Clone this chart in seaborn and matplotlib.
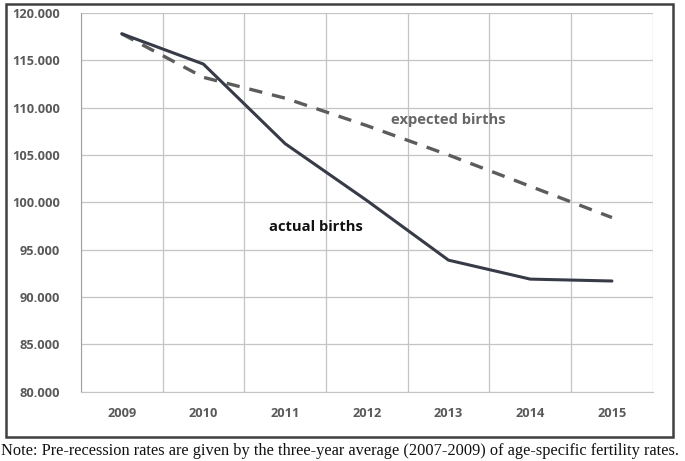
import matplotlib
matplotlib.use("Agg")
import matplotlib.pyplot as plt
import matplotlib.ticker as mticker
from matplotlib.patches import Rectangle
import seaborn as sns
import pandas as pd

years = [2009, 2010, 2011, 2012, 2013, 2014, 2015]
actual_births = [117800, 114600, 106200, 100200, 93900, 91900, 91700]
expected_births = [117800, 113200, 111000, 108100, 105000, 101700, 98400]
y_ticks = [80000, 85000, 90000, 95000, 100000, 105000, 110000, 115000, 120000]
note = ("Note: Pre-recession rates are given by the three-year average "
        "(2007-2009) of age-specific fertility rates.")

df = pd.DataFrame({"year": years, "actual": actual_births, "expected": expected_births})

sns.set_style("white")
plt.rcParams["font.family"] = ["Open Sans", "DejaVu Sans"]

fig = plt.figure(figsize=(6.85, 4.61), dpi=100)
ax = fig.add_axes([0.118, 0.150, 0.835, 0.822])

# outer chart frame
fig.patches.append(Rectangle((0.009, 0.052), 0.973, 0.94, transform=fig.transFigure,
                             fill=False, edgecolor="#404040", linewidth=1.8))

sns.lineplot(data=df, x="year", y="expected", ax=ax, color="#5c5c5c",
             linewidth=2.4, linestyle=(0, (4, 3)))
sns.lineplot(data=df, x="year", y="actual", ax=ax, color="#363b47", linewidth=2.2)

ax.set_xlim(years[0] - 0.5, years[-1] + 0.5)
ax.set_ylim(y_ticks[0], y_ticks[-1])
ax.set_xticks(years)
ax.set_yticks(y_ticks)
ax.yaxis.set_major_formatter(mticker.FuncFormatter(lambda v, p: f"{v:,.0f}".replace(",", ".")))
ax.set_xlabel("")
ax.set_ylabel("")

# vertical grid between categories, horizontal at ticks
for b in [y - 0.5 for y in years] + [years[-1] + 0.5]:
    ax.axvline(b, color="#c4c4c4", linewidth=0.9, zorder=0)
for t in y_ticks:
    ax.axhline(t, color="#c4c4c4", linewidth=0.9, zorder=0)

for s in ["top", "right"]:
    ax.spines[s].set_visible(False)
ax.spines["left"].set_color("#a0a0a0")
ax.spines["bottom"].set_color("#c4c4c4")
ax.tick_params(axis="both", length=0, labelsize=9.2, labelcolor="#595959")
ax.tick_params(axis="x", pad=11)
ax.tick_params(axis="y", pad=15)
for lab in ax.get_xticklabels() + ax.get_yticklabels():
    lab.set_fontweight("bold")

ax.text(2012.3, 108700, "expected births", fontsize=10.6, fontweight="bold", color="#666666",
        ha="left", va="center")
ax.text(2010.8, 97400, "actual births", fontsize=10.6, fontweight="bold", color="#111111",
        ha="left", va="center")

fig.text(0.002, 0.022, note, fontsize=11.8, family=["Liberation Serif", "DejaVu Serif"],
         ha="left", va="center", color="#111111")

fig.savefig("out.png", dpi=100)
